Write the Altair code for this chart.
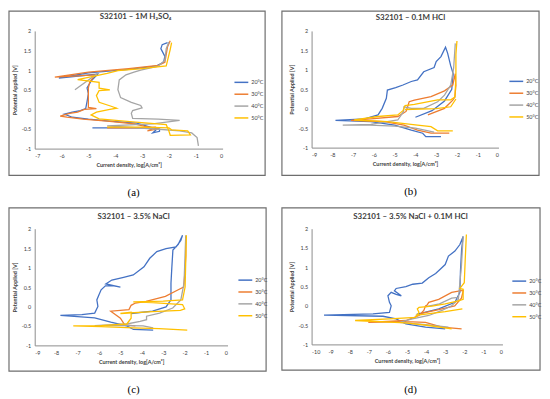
import altair as alt
import pandas as pd

TEMPS = ["20°C", "30°C", "40°C", "50°C"]
COLORS = ["#4472C4", "#ED7D31", "#A5A5A5", "#FFC000"]
TITLES = ["S32101 – 1M H₂SO₄", "S32101 – 0.1M HCl", "S32101 – 3.5% NaCl",
          "S32101 – 3.5% NaCl + 0.1M HCl"]
CAPTIONS = ["(a)", "(b)", "(c)", "(d)"]
X_TITLE = "Current density, log[A/cm²]"
Y_TITLE = "Potential Applied [V]"
Y_TICKS = [-1, -0.5, 0, 0.5, 1, 1.5, 2]
X_TICKS_A = [-7, -6, -5, -4, -3, -2, -1, 0]
X_TICKS_B = [-9, -8, -7, -6, -5, -4, -3, -2, -1, 0]
X_TICKS_C = [-9, -8, -7, -6, -5, -4, -3, -2, -1, 0]
X_TICKS_D = [-10, -9, -8, -7, -6, -5, -4, -3, -2, -1, 0]

# ---------- (a) 1M H2SO4 ----------
A20_X = [-4.85, -3.5, -2.6, -2.35, -2.35, -2.6, -2.45, -3.2, -4.2, -5.0, -5.6, -5.9, -5.6, -5.3,
         -5.1, -5.05, -5.0, -5.05, -4.9, -4.65, -6.1, -5.0, -3.5, -2.5, -2.2, -2.15, -2.3, -2.25, -2.05]
A20_Y = [-0.47, -0.47, -0.47, -0.5, -0.56, -0.6, -0.5, -0.35, -0.3, -0.25, -0.2, -0.12, -0.07, -0.03,
         0.02, 0.2, 0.4, 0.55, 0.72, 0.9, 0.8, 0.93, 1.02, 1.1, 1.2, 1.35, 1.55, 1.65, 1.7]
A30_X = [-4.3, -3.2, -2.5, -2.4, -2.8, -2.6, -3.3, -4.3, -5.2, -5.8, -6.05, -5.7, -5.4, -5.15, -4.7,
         -5.0, -5.0, -5.0, -4.95, -4.75, -6.25, -5.0, -3.5, -2.4, -2.15, -2.1, -2.05, -1.95]
A30_Y = [-0.47, -0.47, -0.45, -0.5, -0.55, -0.48, -0.37, -0.3, -0.25, -0.2, -0.17, -0.1, -0.07, 0.0, 0.02,
         0.05, 0.3, 0.55, 0.7, 0.88, 0.82, 0.95, 1.04, 1.12, 1.2, 1.4, 1.6, 1.75]
A40_X = [-0.9, -0.95, -1.15, -1.6, -2.5, -4.3, -2.6, -1.6, -2.4, -3.35, -3.4, -3.35, -3.0, -3.05, -3.4,
         -3.8, -3.9, -3.85, -3.6, -3.3, -3.05, -2.4, -2.15, -2.1, -2.0, None, -5.5, -4.65]
A40_Y = [-0.93, -0.72, -0.6, -0.55, -0.5, -0.42, -0.37, -0.28, -0.25, -0.23, -0.1, -0.03, 0.04, 0.1, 0.18,
         0.3, 0.5, 0.75, 0.88, 0.95, 1.0, 1.1, 1.25, 1.55, 1.72, None, 0.5, 0.92]
A50_X = [-4.3, -3.0, -2.0, -1.9, -1.3, -1.2, -1.95, -2.0, -2.1, -3.35, -4.6, -4.9, -4.7, -4.2, -3.95,
         -4.15, -4.6, -4.7, -4.6, -4.2, -4.6, -4.6, -5.4, -4.3, -3.9, -3.1, -2.1, -1.95, -1.9]
A50_Y = [-0.45, -0.45, -0.47, -0.52, -0.55, -0.65, -0.66, -0.55, -0.39, -0.32, -0.24, -0.14, -0.07, 0.0, 0.03,
         0.08, 0.18, 0.35, 0.48, 0.5, 0.54, 0.69, 0.76, 0.92, 0.99, 1.03, 1.11, 1.53, 1.7]

# ---------- (b) 0.1M HCl ----------
B20_X = [-2.77, -3.5, -3.65, -4.2, -5.0, -6.15, -7.85, -6.45, -5.8, -5.6, -5.4, -5.35, -4.95, -4.6, -4.2,
         -3.9, -3.6, -3.1, -3.0, -2.77, -2.55, -2.45, -2.3, -2.18, -2.25, -2.6, -3.2, -4.0]
B20_Y = [-0.72, -0.72, -0.63, -0.55, -0.42, -0.33, -0.3, -0.26, -0.16, 0.01, 0.27, 0.48, 0.54, 0.61, 0.7,
         0.74, 0.95, 1.06, 1.21, 1.34, 1.58, 1.43, 1.1, 0.9, 0.5, 0.2, -0.05, -0.22]
B30_X = [-2.37, -3.25, -3.9, -4.55, -5.5, -7.1, -6.15, -4.85, -4.45, -4.4, -4.3, -4.05, -3.25, -2.6, -2.2,
         -2.08, -2.05, -2.1, -2.2, -2.6, -3.4]
B30_Y = [-0.63, -0.63, -0.55, -0.42, -0.33, -0.3, -0.26, -0.2, -0.07, 0.01, 0.18, 0.22, 0.31, 0.46, 0.61,
         0.9, 0.6, 0.3, 0.22, 0.01, -0.16]
B40_X = [-3.1, -4.0, -5.0, -6.2, -7.5, -6.15, -4.85, -4.57, -4.55, -4.2, -3.6, -2.93, -2.6, -2.3, -2.16, -2.08]
B40_Y = [-0.6, -0.5, -0.45, -0.42, -0.42, -0.4, -0.29, -0.07, 0.05, 0.01, 0.01, 0.18, 0.35, 0.61, 1.04, 1.68]
B50_X = [-2.2, -2.93, -3.25, -3.9, -5.35, -6.95, -5.8, -4.85, -4.6, -4.5, -4.05, -2.93, -2.3, -2.1, -2.05,
         -2.05, -2.0, None, -2.05, -2.3, -3.0, -4.5]
B50_Y = [-0.57, -0.57, -0.46, -0.42, -0.33, -0.29, -0.2, -0.16, -0.05, 0.08, 0.11, 0.23, 0.23, 0.3, 0.8,
         1.4, 1.74, None, 0.25, 0.05, 0.0, -0.02]

# ---------- (c) 3.5% NaCl ----------
C20_X = [-3.47, -4.39, -4.7, -5.45, -6.2, -7.8, -6.8, -6.2, -6.05, -6.1, -6.0, -5.9, -5.7, -5.3, -5.0,
         -5.68, -5.4, -4.85, -4.4, -3.9, -3.63, -3.3, -2.87, -2.4, -2.18, -2.1, -2.3, -2.55, -2.6, -2.64,
         -2.64, -2.87, -3.5, -4.5]
C20_Y = [-0.61, -0.59, -0.5, -0.4, -0.29, -0.23, -0.21, -0.17, 0.0, 0.17, 0.3, 0.43, 0.53, 0.53, 0.5,
         0.58, 0.68, 0.75, 0.81, 1.02, 1.24, 1.41, 1.49, 1.53, 1.7, 1.83, 1.6, 1.45, 1.0, 0.6,
         0.17, -0.01, -0.12, -0.18]
C30_X = [-4.3, -4.8, -5.0, -5.45, -4.6, -4.5, -4.3, -3.8, -2.9, -2.3, -2.05, -2.0, -1.95, -1.95]
C30_Y = [-0.5, -0.47, -0.3, -0.12, -0.08, 0.03, 0.09, 0.13, 0.26, 0.43, 0.5, 0.8, 1.3, 1.8]
C40_X = [-3.47, -3.94, -4.7, -6.2, -4.7, -4.08, -3.78, -3.78, -3.17, -2.56, -2.18, -2.03, -1.95]
C40_Y = [-0.55, -0.5, -0.49, -0.49, -0.45, -0.38, -0.34, -0.25, -0.17, -0.04, 0.17, 0.6, 1.83]
C50_X = [-1.88, -3.2, -4.4, -5.9, -7.2, -5.9, -4.7, -4.5, -4.5, -5.0, -3.5, -2.2, -2.0, -2.1, -3.5, -4.4,
         -3.0, -2.1, -1.98, -1.92]
C50_Y = [-0.61, -0.57, -0.55, -0.52, -0.5, -0.49, -0.45, -0.3, -0.15, -0.18, -0.13, -0.1, -0.06, 0.05, 0.1,
         0.12, 0.14, 0.17, 0.5, 1.83]

# ---------- (d) 3.5% NaCl + 0.1M HCl ----------
D20_X = [-3.0, -4.03, -5.06, -5.57, -6.26, -9.35, -6.78, -5.92, -5.83, -5.92, -6.0, -5.83, -5.57, -5.3,
         -5.66, -5.57, -5.06, -4.7, -4.2, -3.86, -3.5, -3.26, -3.0, -2.83, -2.49, -2.23, -2.06, -2.14,
         -2.2, -2.23, -2.49, -3.34, -4.5]
D20_Y = [-0.6, -0.55, -0.47, -0.34, -0.27, -0.24, -0.21, -0.17, 0.0, 0.09, 0.26, 0.35, 0.3, 0.26,
         0.39, 0.45, 0.5, 0.56, 0.59, 0.73, 0.84, 0.95, 1.07, 1.29, 1.42, 1.59, 1.8, 1.46,
         0.9, 0.35, 0.09, -0.08, -0.22]
D30_X = [-2.14, -3.17, -4.03, -5.06, -7.03, -5.06, -4.37, -4.12, -4.03, -3.95, -3.86, -3.34, -2.66, -2.23,
         -2.05, -2.15, -2.5, -3.34, -4.3]
D30_Y = [-0.6, -0.55, -0.43, -0.41, -0.43, -0.38, -0.25, -0.12, 0.0, 0.02, 0.09, 0.17, 0.35, 0.39,
         0.4, 0.2, 0.0, -0.1, -0.2]
D40_X = [-2.83, -4.03, -5.4, -4.72, -3.86, -3.17, -2.66, -2.31, -2.23, -2.15, -2.06, None,
         -4.0, -3.3, -2.66, -2.3]
D40_Y = [-0.55, -0.49, -0.43, -0.34, -0.25, -0.12, 0.0, 0.17, 0.6, 1.03, 1.8, None,
         -0.02, 0.05, 0.2, 0.22]
D50_X = [-2.66, -3.86, -5.06, -7.72, -5.92, -4.55, -4.37, -4.46, -4.37, -3.69, -3.0, -2.31, -2.06, -2.06,
         -2.23, -2.0, -1.95, -1.89, None, -2.1, -3.0, -4.55]
D50_Y = [-0.6, -0.51, -0.44, -0.38, -0.34, -0.3, -0.17, -0.08, -0.04, -0.01, 0.05, 0.13, 0.17, 0.43,
         0.45, 0.6, 1.2, 1.85, None, -0.08, -0.15, -0.25]


def build(series):
    rows = []
    for t, (xs, ys) in zip(TEMPS, series):
        seg = 0
        for i, (x, y) in enumerate(zip(xs, ys)):
            if x is None:
                seg += 1
                continue
            rows.append({"x": x, "y": y, "t": t, "seg": f"{t}-{seg}", "i": i})
    return pd.DataFrame(rows)


def panel(k, series, xdom, xticks, w, h, lx, ly, frame, tpos, cpos):
    df = build(series)
    lines = alt.Chart(df).mark_line(strokeWidth=1.3, clip=True).encode(
        x=alt.X("x:Q", scale=alt.Scale(domain=xdom, nice=False, zero=False),
                axis=alt.Axis(values=xticks, title=X_TITLE, labelExpr="'' + datum.value")),
        y=alt.Y("y:Q", scale=alt.Scale(domain=[-1, 2], nice=False, zero=False),
                axis=alt.Axis(values=Y_TICKS, title=Y_TITLE, labelExpr="'' + datum.value")),
        color=alt.Color("t:N", scale=alt.Scale(domain=TEMPS, range=COLORS),
                        legend=alt.Legend(orient="none", legendX=lx, legendY=ly, title=None,
                                          symbolType="stroke", symbolSize=196,
                                          symbolStrokeWidth=1.5, labelFont="Lato",
                                          labelFontSize=5.5, labelColor="#404040",
                                          labelOffset=2, rowPadding=-1.5, padding=0)),
        detail="seg:N",
        order="i:Q",
    )
    meta = pd.DataFrame({"title": [TITLES[k]], "cap": [CAPTIONS[k]]})
    base = alt.Chart(meta)
    frame_l = base.mark_rect(filled=False, stroke="#6E6E6E", strokeWidth=1.2).encode(
        x=alt.value(frame[0]), x2=alt.value(frame[1]),
        y=alt.value(frame[2]), y2=alt.value(frame[3]))
    title_l = base.mark_text(font="Lato", fontSize=8, fontWeight="bold", color="#404040",
                             baseline="middle").encode(
        text="title:N", x=alt.value(tpos[0]), y=alt.value(tpos[1]))
    cap_l = base.mark_text(font="Liberation Serif", fontSize=11, color="#000000",
                           baseline="middle").encode(
        text="cap:N", x=alt.value(cpos[0]), y=alt.value(cpos[1]))
    return alt.layer(lines, frame_l, title_l, cap_l).properties(width=w, height=h)


pa = panel(0, [(A20_X, A20_Y), (A30_X, A30_Y), (A40_X, A40_Y), (A50_X, A50_Y)],
           [-7, 0], X_TICKS_A, 190, 119, 201, 44, (-26, 233, -20, 146), (102, -14), (100, 164))
pb = panel(1, [(B20_X, B20_Y), (B30_X, B30_Y), (B40_X, B40_Y), (B50_X, B50_Y)],
           [-9, 0], X_TICKS_B, 189, 118, 199, 43, (-30, 230, -20, 146), (100, -13), (100, 163))
pc = panel(2, [(C20_X, C20_Y), (C30_X, C30_Y), (C40_X, C40_Y), (C50_X, C50_Y)],
           [-9, 0], X_TICKS_C, 195, 118, 205, 44, (-26, 234, -21, 144), (100, -12), (100, 163))
pd_ = panel(3, [(D20_X, D20_Y), (D30_X, D30_Y), (D40_X, D40_Y), (D50_X, D50_Y)],
            [-10, 0], X_TICKS_D, 193, 117, 202, 45, (-30, 231, -21, 143), (100, -12), (100, 163))

chart = alt.concat(pa, pb, pc, pd_, columns=2, spacing={"row": 81, "column": 85},
                   bounds="flush", align="all").resolve_scale(
    color="independent").resolve_legend(color="independent").properties(
    padding=0).configure_view(stroke=None).configure_axis(
    domainColor="#8C8C8C", domainWidth=1, ticks=False, grid=False,
    labelFont="Lato", labelFontSize=5.5, labelColor="#404040",
    titleFont="Lato", titleFontSize=5.5, titleFontWeight="bold", titleColor="#404040"
).configure_axisX(labelPadding=5, titlePadding=4).configure_axisY(labelPadding=4, titlePadding=4)

chart.save("out.html", embed_options={"renderer": "svg", "actions": False})
